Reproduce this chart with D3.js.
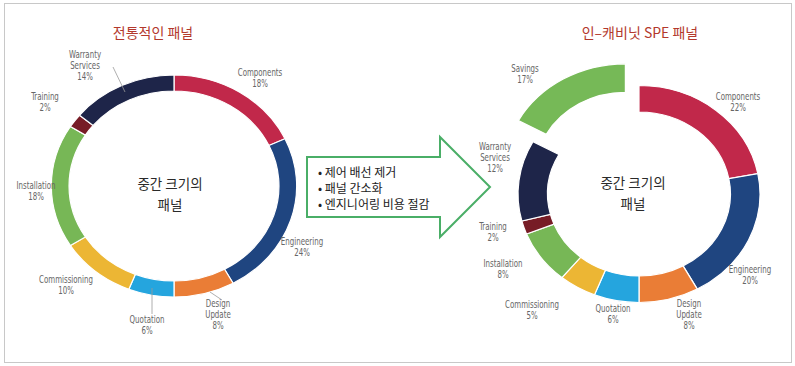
<!DOCTYPE html>
<html>
<head>
<meta charset="utf-8">
<script src="https://cdn.jsdelivr.net/npm/d3@7"></script>
<style>
  body { margin: 0; background: #fff; }
  .lbl { font-family: "Liberation Sans Narrow", "DejaVu Sans Condensed", sans-serif; font-size: 9.8px; fill: #666; }
  .kr { font-family: "Noto Sans CJK KR", sans-serif; }
</style>
</head>
<body>
<div id="chart"></div>
<script>
// data
const leftCats = ["Components", "Engineering", "Design Update", "Quotation", "Commissioning", "Installation", "Training", "Warranty Services"];
const leftVals = [18, 24, 8, 6, 10, 18, 2, 14];
const rightCats = ["Components", "Engineering", "Design Update", "Quotation", "Commissioning", "Installation", "Training", "Warranty Services", "Savings"];
const rightVals = [22, 20, 8, 6, 5, 8, 2, 12, 17];
const titles = ["전통적인 패널", "인–캐비닛 SPE 패널"];
const centerText = ["중간 크기의", "패널"];
const bullets = ["제어 배선 제거", "패널 간소화", "엔지니어링 비용 절감"];

const colors = {
  "Components": "#c1284a",
  "Engineering": "#1f4580",
  "Design Update": "#ea7d36",
  "Quotation": "#25a5de",
  "Commissioning": "#ecb634",
  "Installation": "#77b756",
  "Training": "#771c26",
  "Warranty Services": "#1e2549",
  "Savings": "#76b957"
};

// label layout (offsets from donut centre)
const leftLabelPos = {
  "Components": [86, -110],
  "Engineering": [128, 59],
  "Design Update": [44, 121],
  "Quotation": [-27, 137],
  "Commissioning": [-108, 97],
  "Installation": [-138, 3],
  "Training": [-129, -86],
  "Warranty Services": [-89, -128]
};
const rightLabelPos = {
  "Components": [99, -94],
  "Engineering": [111, 79],
  "Design Update": [50, 113],
  "Quotation": [-26, 118],
  "Commissioning": [-107, 114],
  "Installation": [-136, 73],
  "Training": [-146, 36],
  "Warranty Services": [-144, -44],
  "Savings": [-114, -122]
};
const leftLeaders = {
  "Warranty Services": [[-61, -119], [-49, -94]],
  "Quotation": [[-22, 102], [-22, 128]],
  "Design Update": [[36, 106], [48, 114]]
};

const W = 795, H = 366;
const svg = d3.select("#chart").append("svg")
  .attr("width", W).attr("height", H);

// frame
svg.append("rect")
  .attr("x", 4.5).attr("y", 3.5).attr("width", 787).attr("height", 359)
  .attr("fill", "#fff").attr("stroke", "#c8c8c8").attr("stroke-width", 1);

const pie = d3.pie().sort(null).value(d => d.v);

function donut(cats, vals, cfg) {
  const data = cats.map((c, i) => ({c: c, v: vals[i]}));
  const arcs = pie(data);
  const g = svg.append("g")
    .attr("transform", `translate(${cfg.cx},${cfg.cy})`);
  const ring = g.append("g").attr("transform", `scale(${cfg.sx},1)`);
  const arc = d3.arc().innerRadius(cfg.ri).outerRadius(cfg.ro);
  const arcX = d3.arc().innerRadius(cfg.ri - 1).outerRadius(cfg.ro + 1);

  ring.selectAll("path")
    .data(arcs)
    .join("path")
    .attr("d", d => d.data.c === cfg.explode ? arcX(d) : arc(d))
    .attr("transform", d => {
      if (d.data.c !== cfg.explode) return null;
      const a = (d.startAngle + d.endAngle) / 2;
      return `translate(${Math.sin(a) * cfg.off},${-Math.cos(a) * cfg.off})`;
    })
    .attr("fill", d => colors[d.data.c])
    .attr("stroke", "#fff")
    .attr("stroke-width", 1.2)
    .attr("vector-effect", "non-scaling-stroke");

  // leader lines
  Object.entries(cfg.leaders || {}).forEach(([k, p]) => {
    g.append("line")
      .attr("x1", p[0][0]).attr("y1", p[0][1])
      .attr("x2", p[1][0]).attr("y2", p[1][1])
      .attr("stroke", "#9a9a9a").attr("stroke-width", 0.8);
  });

  // labels (narrowed to look like a condensed face)
  arcs.forEach(d => {
    const p = cfg.labels[d.data.c];
    const lines = d.data.c.split(" ").concat([d.data.v + "%"]);
    const t = g.append("text").attr("class", "lbl")
      .attr("text-anchor", "middle")
      .attr("transform", `translate(${p[0]},${p[1]}) scale(0.8,1)`);
    lines.forEach((s, i) => {
      t.append("tspan").attr("x", 0).attr("dy", i === 0 ? 0 : 10.8).text(s);
    });
  });

  // title
  svg.append("text").attr("class", "kr")
    .attr("x", cfg.tx).attr("y", 38)
    .attr("text-anchor", "middle")
    .attr("font-size", 14)
    .attr("fill", "#b3382c")
    .text(cfg.title);

  // centre text
  centerText.forEach((s, i) => {
    g.append("text").attr("class", "kr")
      .attr("x", cfg.ctx).attr("y", cfg.cty + i * 21)
      .attr("text-anchor", "middle")
      .attr("font-size", 13.5)
      .attr("fill", "#2a2a2a")
      .text(s);
  });
}

donut(leftCats, leftVals, {
  cx: 174, cy: 186, sx: 1.105, ro: 111, ri: 95,
  labels: leftLabelPos, leaders: leftLeaders,
  title: titles[0], tx: 153, ctx: -4, cty: 3
});

donut(rightCats, rightVals, {
  cx: 639, cy: 194, sx: 1.115, ro: 108.5, ri: 82,
  explode: "Savings", off: 24,
  labels: rightLabelPos,
  title: titles[1], tx: 640, ctx: -6, cty: -6
});

// arrow
const arrowPts = [[307, 157], [440, 157], [440, 137], [490, 187], [440, 237], [440, 217], [307, 217]];
svg.append("path")
  .attr("d", d3.line()(arrowPts) + "Z")
  .attr("fill", "#fff")
  .attr("stroke", "#4aae67")
  .attr("stroke-width", 2)
  .attr("stroke-linejoin", "miter");

bullets.forEach((s, i) => {
  svg.append("text").attr("class", "kr")
    .attr("x", 318).attr("y", 177 + i * 16)
    .attr("font-size", 12)
    .attr("fill", "#222")
    .text("• " + s);
});
</script>
</body>
</html>
